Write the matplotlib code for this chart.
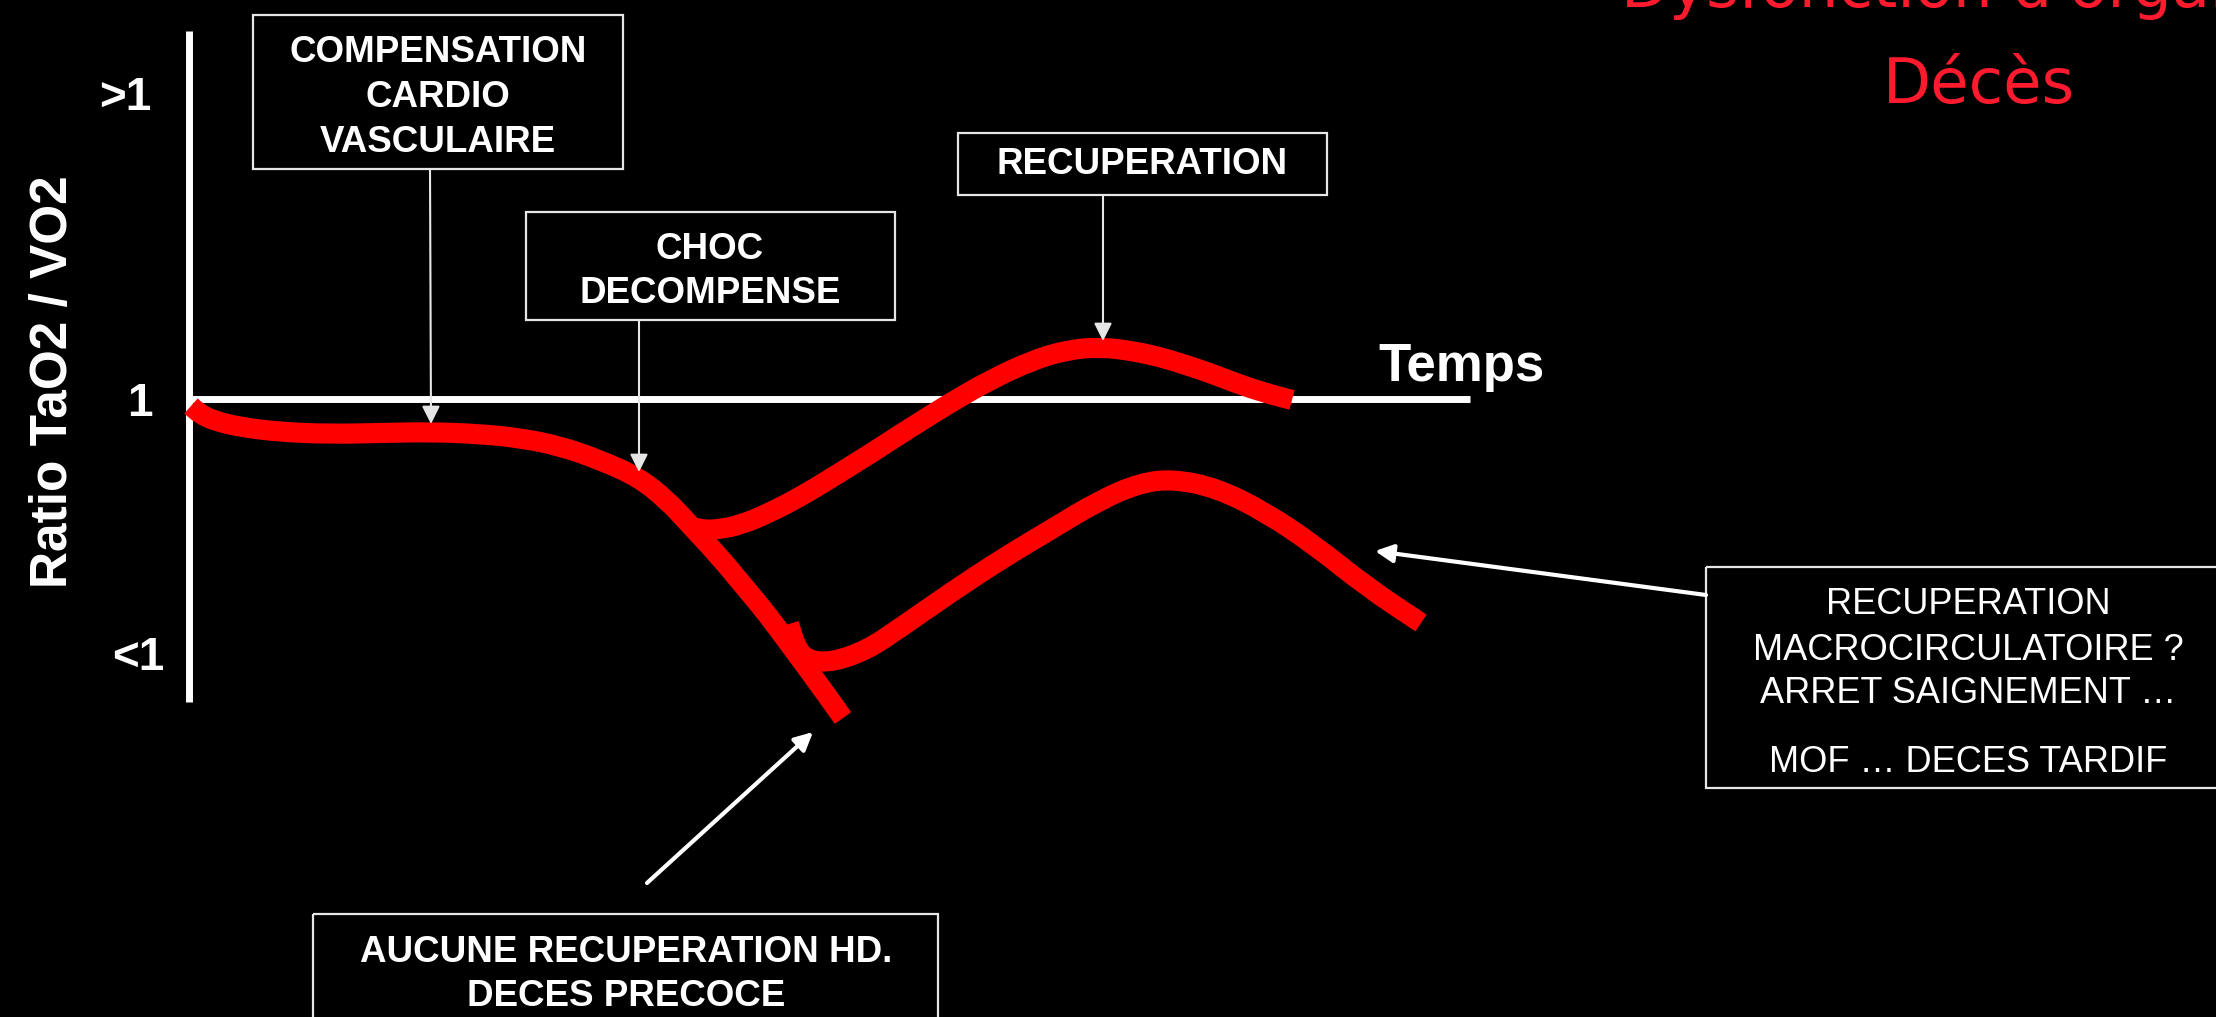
import matplotlib.pyplot as plt
from matplotlib.patches import Rectangle, PathPatch
from matplotlib.path import Path

# curves (x = time, y = ratio, slide pixels, y grows downward)
trunk_x = [191, 200, 215, 240, 280, 330, 380, 431, 480, 520, 560, 600, 638, 667,
           690, 717, 743, 767, 787, 807, 828, 843]
trunk_y = [406, 414, 421, 427, 432, 434, 433, 432, 434, 438, 446, 460, 477, 500,
           525, 554, 585, 614, 641, 668, 697, 718]

recovery_x = [692, 705, 720, 740, 767, 800, 833, 873, 910, 950, 990, 1033, 1067,
              1100, 1133, 1160, 1183, 1210, 1233, 1262, 1292]
recovery_y = [527, 530, 529, 525, 514, 497, 477, 452, 428, 403, 380, 360, 350,
              347, 351, 357, 364, 373, 382, 392, 400]

late_x = [789, 797, 810, 833, 867, 900, 950, 1000, 1050, 1100, 1140, 1173, 1217,
          1267, 1317, 1367, 1421]
late_y = [624, 650, 661, 662, 650, 628, 593, 560, 530, 500, 483, 479, 488,
          513, 547, 587, 623]

tick_labels = ['>1', '1', '<1']
y_label = 'Ratio TaO2 / VO2'
x_label = 'Temps'

bold_boxes = [
    ['COMPENSATION', 'CARDIO', 'VASCULAIRE'],
    ['CHOC', 'DECOMPENSE'],
    ['RECUPERATION'],
    ['AUCUNE RECUPERATION HD.', 'DECES PRECOCE'],
]
note_lines = ['RECUPERATION', 'MACROCIRCULATOIRE ?', 'ARRET SAIGNEMENT \u2026',
              'MOF \u2026 DECES TARDIF']
red_lines = ["Dysfonction d'organe", 'D\u00e9c\u00e8s']


def smooth_path(xs, ys):
    # quadratic bezier through the midpoints, the read points act as control points
    pts = list(zip(xs, ys))
    verts = [pts[0], ((pts[0][0] + pts[1][0]) / 2, (pts[0][1] + pts[1][1]) / 2)]
    codes = [Path.MOVETO, Path.LINETO]
    for i in range(1, len(pts) - 1):
        nxt = ((pts[i][0] + pts[i + 1][0]) / 2, (pts[i][1] + pts[i + 1][1]) / 2)
        verts += [pts[i], nxt]
        codes += [Path.CURVE3, Path.CURVE3]
    verts.append(pts[-1])
    codes.append(Path.LINETO)
    return Path(verts, codes)


W, H = 2216, 1017
fig = plt.figure(figsize=(W / 100, H / 100), dpi=100, facecolor='black')
ax = fig.add_axes([0, 0, 1, 1])
ax.set_xlim(0, W)
ax.set_ylim(H, 0)
ax.set_facecolor('black')
ax.axis('off')

sans = 'Liberation Sans'
red = '#ff0000'

# axes of the diagram
ax.plot([189, 189], [31, 702], color='white', lw=5, solid_capstyle='butt')
ax.plot([189, 1470], [399, 399], color='white', lw=5, solid_capstyle='butt')

for xs, ys in [(trunk_x, trunk_y), (recovery_x, recovery_y), (late_x, late_y)]:
    ax.add_patch(PathPatch(smooth_path(xs, ys), fill=False, ec=red, lw=14.5,
                           capstyle='butt', joinstyle='round', zorder=3))

# tick labels and axis titles
for lab, (x, yb) in zip(tick_labels, [(151, 110), (153, 416), (164, 670)]):
    ax.text(x, yb, lab, color='white', fontsize=33, fontweight='bold',
            family=sans, ha='right', va='baseline')
ax.text(54, 382, y_label, color='white', fontsize=37, fontweight='bold',
        family=sans, rotation=90, ha='center', va='center')
ax.text(1378, 381, x_label, color='white', fontsize=38, fontweight='bold',
        family=sans, ha='left', va='baseline')

# boxes: (x0, y0, x1, y1), text centre x, baselines
box_geom = [
    ((253, 15, 623, 169), 438, [62, 107, 152]),
    ((526, 212, 895, 320), 710, [259, 303]),
    ((958, 133, 1327, 195), 1142, [174]),
    ((313, 914, 938, 1040), 626, [962, 1006]),
]
for lines, (rect, cx, bases) in zip(bold_boxes, box_geom):
    x0, y0, x1, y1 = rect
    ax.add_patch(Rectangle((x0, y0), x1 - x0, y1 - y0, fill=False,
                           ec='#e6e6e6', lw=1.6, zorder=4))
    for txt, yb in zip(lines, bases):
        ax.text(cx, yb, txt, color='white', fontsize=26.5, fontweight='bold',
                family=sans, ha='center', va='baseline', zorder=5)

ax.add_patch(Rectangle((1706, 567), 560, 221, fill=False, ec='#e6e6e6', lw=1.6, zorder=4))
for txt, yb in zip(note_lines, [614, 660, 703, 772]):
    ax.text(1968, yb, txt, color='white', fontsize=26, family=sans,
            ha='center', va='baseline', zorder=5)

# arrows
thin = dict(arrowstyle='-|>', mutation_scale=27, lw=1.5, color='#e6e6e6',
            shrinkA=0, shrinkB=0)
thick = dict(arrowstyle='-|>', mutation_scale=27, lw=3, color='white',
             shrinkA=0, shrinkB=0)
for tail, tip in [((430, 169), (431, 424)), ((639, 320), (639, 472)),
                  ((1103, 195), (1103, 341))]:
    ax.annotate('', xy=tip, xytext=tail, arrowprops=thin, zorder=6)
for tail, tip in [((647, 883), (813, 732)), ((1706, 595), (1375, 551))]:
    ax.annotate('', xy=tip, xytext=tail, arrowprops=thick, zorder=6)

# red text, partly cut by the top edge as on the slide
ax.text(1621, 7, red_lines[0], color='#ff1a2e', fontsize=45,
        family='DejaVu Sans', ha='left', va='baseline')
ax.text(1979, 103, red_lines[1], color='#ff1a2e', fontsize=45,
        family='DejaVu Sans', ha='center', va='baseline')

fig.savefig('out.png', dpi=100, facecolor='black')
